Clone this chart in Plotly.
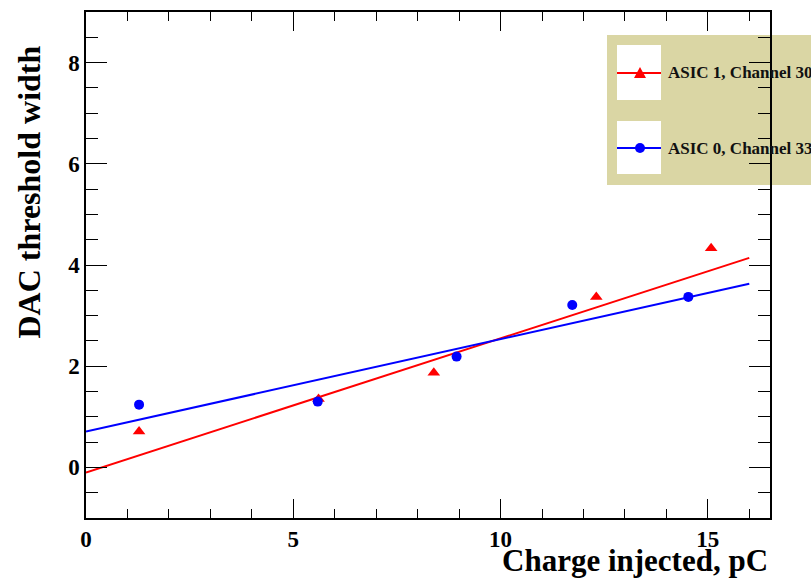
import plotly.graph_objects as go

# Measured points: DAC threshold width vs injected charge
asic1_ch30_charge = [1.28, 5.61, 8.39, 12.31, 15.08]
asic1_ch30_width = [0.71, 1.35, 1.87, 3.37, 4.33]

asic0_ch33_charge = [1.28, 5.59, 8.94, 11.73, 14.53]
asic0_ch33_width = [1.24, 1.30, 2.19, 3.21, 3.37]

# Linear fit parameters (intercept, slope) and the fit range
asic1_fit = (-0.10, 0.265)
asic0_fit = (0.71, 0.1825)
fit_range = [0.0, 16.0]

series_names = ["ASIC 1, Channel 30", "ASIC 0, Channel 33"]

x_range = [0, 16.5]
y_range = [-1, 9]

W, H = 811, 579
L, R, T, B = 86, 41, 12, 61
FONT = "Liberation Serif"


def px(xp):
    return (xp - L) / (W - L - R)


def py(yp):
    return (H - B - yp) / (H - T - B)


def fit_line(params):
    a, b = params
    return fit_range, [a + b * x for x in fit_range]


fig = go.Figure()

for params, color in [(asic1_fit, "#ff0000"), (asic0_fit, "#0000ff")]:
    lx, ly = fit_line(params)
    fig.add_trace(go.Scatter(x=lx, y=ly, mode="lines",
                             line=dict(color=color, width=2),
                             showlegend=False, hoverinfo="skip"))

fig.add_trace(go.Scatter(x=asic1_ch30_charge, y=asic1_ch30_width, mode="markers",
                         name=series_names[0], showlegend=False,
                         marker=dict(symbol="triangle-up", size=11, color="#ff0000")))
fig.add_trace(go.Scatter(x=asic0_ch33_charge, y=asic0_ch33_width, mode="markers",
                         name=series_names[1], showlegend=False,
                         marker=dict(symbol="circle", size=10, color="#0000ff")))

# Legend box drawn under the frame
shapes = [
    dict(type="rect", xref="paper", yref="paper", layer="below",
         x0=px(607), x1=px(830), y0=py(185), y1=py(35),
         fillcolor="#dad6a4", line=dict(width=0)),
]
rows = [(45, 100, 73, "#ff0000", "triangle"), (121, 174, 148, "#0000ff", "circle")]
for top, bot, yc, color, sym in rows:
    shapes.append(dict(type="rect", xref="paper", yref="paper", layer="below",
                       x0=px(617), x1=px(661), y0=py(bot), y1=py(top),
                       fillcolor="white", line=dict(width=0)))
    shapes.append(dict(type="line", xref="paper", yref="paper", layer="below",
                       x0=px(617), x1=px(661), y0=py(yc), y1=py(yc),
                       line=dict(color=color, width=2)))
    if sym == "triangle":
        shapes.append(dict(type="path", xref="paper", yref="paper", layer="below",
                           xsizemode="pixel", ysizemode="pixel",
                           xanchor=px(640), yanchor=py(yc),
                           path="M -6,-5 L 6,-5 L 0,6 Z",
                           fillcolor=color, line=dict(width=0)))
    else:
        shapes.append(dict(type="circle", xref="paper", yref="paper", layer="below",
                           xsizemode="pixel", ysizemode="pixel",
                           xanchor=px(640), yanchor=py(yc),
                           x0=-5, x1=5, y0=-5, y1=5,
                           fillcolor=color, line=dict(width=0)))

annotations = []
for (top, bot, yc, color, sym), name in zip(rows, series_names):
    annotations.append(dict(xref="paper", yref="paper", x=px(666), y=py(yc),
                            xanchor="left", yanchor="middle", showarrow=False,
                            text="<b>%s</b>" % name,
                            font=dict(family=FONT, size=17, color="#111111")))

annotations.append(dict(xref="paper", yref="paper", x=1.0, y=py(560),
                        xanchor="right", yanchor="middle", showarrow=False,
                        text="<b>Charge injected, pC</b>",
                        font=dict(family=FONT, size=31, color="black")))
annotations.append(dict(xref="paper", yref="paper", x=px(28), y=py(44),
                        xanchor="center", yanchor="top", showarrow=False,
                        textangle=-90,
                        text="<b>DAC threshold width</b>",
                        font=dict(family=FONT, size=32, color="black")))

axis_common = dict(showline=True, linecolor="black", linewidth=1.5, mirror="ticks",
                   ticks="inside", tickcolor="black", tickwidth=1.2,
                   showgrid=False, zeroline=False,
                   tickfont=dict(family=FONT, size=23, color="black"))

fig.update_layout(
    width=W, height=H,
    margin=dict(l=L, r=R, t=T, b=B, autoexpand=False),
    paper_bgcolor="white", plot_bgcolor="rgba(0,0,0,0)",
    showlegend=False,
    shapes=shapes, annotations=annotations,
    xaxis=dict(range=x_range, dtick=5, ticklen=19,
               minor=dict(dtick=1, ticklen=9, ticks="inside", tickcolor="black", tickwidth=1.2),
               tickprefix="<b>", ticksuffix="</b>", **axis_common),
    yaxis=dict(range=y_range, dtick=2, ticklen=21,
               minor=dict(dtick=0.5, ticklen=12, ticks="inside", tickcolor="black", tickwidth=1.2),
               tickprefix="<b>", ticksuffix="</b>", **axis_common),
)

fig.write_html("out.html")
